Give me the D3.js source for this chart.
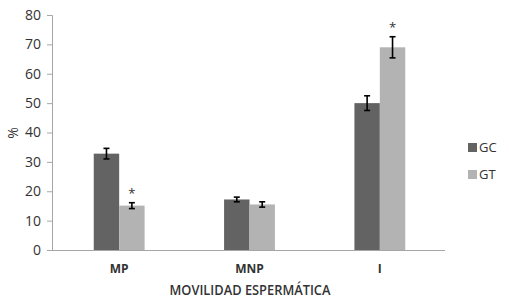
<!DOCTYPE html>
<html lang="en">
<head>
<meta charset="utf-8">
<script src="https://d3js.org/d3.v7.min.js"></script>
<style>
  body { margin: 0; background: #fff; }
  text { font-family: "Open Sans", "Noto Sans", sans-serif; fill: #333; }
</style>
</head>
<body>
<div id="chart"></div>
<script>
    // categories and series
    const categories = ["MP", "MNP", "I"];
    const series = ["GC", "GT"];
    const gcValues = [32.8, 17.2, 50.0];
    const gtValues = [15.1, 15.5, 69.0];
    const gcErrors = [1.8, 0.8, 2.5];
    const gtErrors = [1.0, 0.9, 3.6];
    const gcSignif = [false, false, false];
    const gtSignif = [true, false, true];
    const yTicks = [0, 10, 20, 30, 40, 50, 60, 70, 80];
    const colors = { GC: "#636363", GT: "#b3b3b3" };

    const width = 509, height = 305;
    const plotLeft = 52, plotRight = 445, plotTop = 15, plotBottom = 250;

    const svg = d3.select("#chart").append("svg")
        .attr("width", width).attr("height", height);

    const x0 = d3.scaleBand().domain(categories).range([plotLeft + 2, plotRight]).paddingInner(0.61).paddingOuter(0.305);
    const x1 = d3.scaleBand().domain(series).range([0, x0.bandwidth()]);
    const y = d3.scaleLinear().domain([0, 80]).range([plotBottom, plotTop]);

    // y axis
    const yAxis = svg.append("g")
        .attr("transform", `translate(${plotLeft},0)`)
        .call(d3.axisLeft(y).tickValues(yTicks).tickSize(5).tickPadding(6));
    yAxis.select(".domain").attr("stroke", "#a6a6a6");
    yAxis.selectAll(".tick line").attr("stroke", "#a6a6a6");
    yAxis.selectAll(".tick text").style("font-size", "14px").attr("fill", "#404040");

    // build rows
    const rows = categories.map((c, i) => ({
        cat: c,
        bars: [
            { s: "GC", v: gcValues[i], e: gcErrors[i], sig: gcSignif[i] },
            { s: "GT", v: gtValues[i], e: gtErrors[i], sig: gtSignif[i] }
        ]
    }));

    const groups = svg.selectAll("g.grp").data(rows).join("g")
        .attr("class", "grp")
        .attr("transform", d => `translate(${x0(d.cat)},0)`);

    groups.selectAll("rect").data(d => d.bars).join("rect")
        .attr("x", d => x1(d.s))
        .attr("y", d => y(d.v))
        .attr("width", x1.bandwidth())
        .attr("height", d => y(0) - y(d.v))
        .attr("fill", d => colors[d.s]);

    // error bars
    const eb = groups.selectAll("g.err").data(d => d.bars).join("g").attr("class", "err")
        .attr("stroke", "#000").attr("stroke-width", 1.6);
    const cx = d => x1(d.s) + x1.bandwidth() / 2;
    eb.append("line")
        .attr("x1", cx).attr("x2", cx)
        .attr("y1", d => y(d.v + d.e)).attr("y2", d => y(d.v - d.e));
    eb.append("line")
        .attr("x1", d => cx(d) - 3).attr("x2", d => cx(d) + 3)
        .attr("y1", d => y(d.v + d.e)).attr("y2", d => y(d.v + d.e));
    eb.append("line")
        .attr("x1", d => cx(d) - 3).attr("x2", d => cx(d) + 3)
        .attr("y1", d => y(d.v - d.e)).attr("y2", d => y(d.v - d.e));

    // significance asterisks
    groups.selectAll("text.sig").data(d => d.bars.filter(b => b.sig)).join("text")
        .attr("class", "sig")
        .attr("x", cx)
        .attr("y", d => y(d.v + d.e) - 5)
        .attr("text-anchor", "middle")
        .style("font-size", "13px")
        .attr("fill", "#222")
        .text("*");

    // x axis
    const xAxis = svg.append("g")
        .attr("transform", `translate(0,${plotBottom})`)
        .call(d3.axisBottom(x0).tickSize(0).tickPadding(14));
    xAxis.select(".domain").remove();
    xAxis.selectAll(".tick text").style("font-size", "12px").style("font-weight", "bold").attr("fill", "#222");
    svg.append("line")
        .attr("x1", plotLeft).attr("x2", plotRight)
        .attr("y1", plotBottom + 0.5).attr("y2", plotBottom + 0.5)
        .attr("stroke", "#a6a6a6");

    // axis titles
    svg.append("text")
        .attr("x", 250).attr("y", 295)
        .attr("text-anchor", "middle")
        .attr("textLength", 161).attr("lengthAdjust", "spacingAndGlyphs")
        .style("font-size", "13.5px").style("font-weight", "600").attr("fill", "#222")
        .text("MOVILIDAD ESPERMÁTICA");

    svg.append("text")
        .attr("transform", "translate(18,133) rotate(-90)")
        .attr("text-anchor", "middle")
        .style("font-size", "14px").attr("fill", "#222")
        .text("%");

    // legend
    const legend = svg.append("g").attr("transform", "translate(468,140)");
    const li = legend.selectAll("g").data(series).join("g")
        .attr("transform", (d, i) => `translate(0,${i * 27})`);
    li.append("rect").attr("width", 9).attr("height", 9).attr("y", 3).attr("fill", d => colors[d]);
    li.append("text").attr("x", 11).attr("y", 12)
        .style("font-size", "13px").attr("fill", "#404040").text(d => d);
</script>
</body>
</html>
